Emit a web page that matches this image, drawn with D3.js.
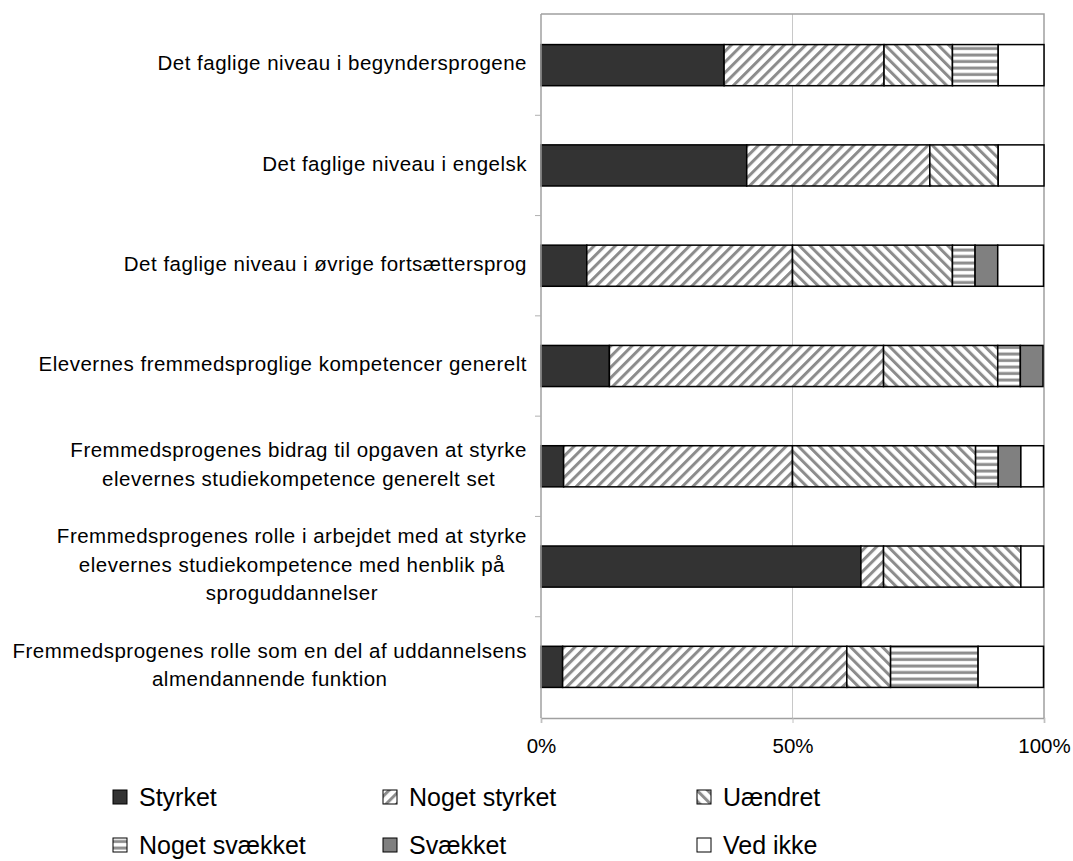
<!DOCTYPE html>
<html>
<head>
<meta charset="utf-8">
<script src="https://cdn.jsdelivr.net/npm/d3@7/dist/d3.min.js"></script>
<style>
  html, body { margin: 0; padding: 0; background: #fff; }
  svg { display: block; font-family: "Liberation Sans", Arial, sans-serif; }
</style>
</head>
<body>
<svg id="chart" width="1073" height="861"></svg>
<script>
const categories = [
  ["Det faglige niveau i begyndersprogene"],
  ["Det faglige niveau i engelsk"],
  ["Det faglige niveau i øvrige fortsættersprog"],
  ["Elevernes fremmedsproglige kompetencer generelt"],
  ["Fremmedsprogenes bidrag til opgaven at styrke", "elevernes studiekompetence generelt set"],
  ["Fremmedsprogenes rolle i arbejdet med at styrke", "elevernes studiekompetence med henblik på", "sproguddannelser"],
  ["Fremmedsprogenes rolle som en del af uddannelsens", "almendannende funktion"]
];
const seriesNames = ["Styrket", "Noget styrket", "Uændret", "Noget svækket", "Svækket", "Ved ikke"];
const styrket       = [36.4, 40.9,  9.1, 13.6,  4.5, 63.6,  4.3];
const nogetStyrket  = [31.8, 36.4, 40.9, 54.5, 45.5,  4.5, 56.5];
const uaendret      = [13.6, 13.6, 31.8, 22.7, 36.4, 27.3,  8.7];
const nogetSvaekket = [ 9.1,  0.0,  4.5,  4.5,  4.5,  0.0, 17.4];
const svaekket      = [ 0.0,  0.0,  4.5,  4.5,  4.5,  0.0,  0.0];
const vedIkke       = [ 9.1,  9.1,  9.1,  0.0,  4.5,  4.5, 13.0];
const xTicks = [0, 50, 100];

const seriesValues = [styrket, nogetStyrket, uaendret, nogetSvaekket, svaekket, vedIkke];
const fills = ["#333333", "url(#pDiagUp)", "url(#pDiagDown)", "url(#pHoriz)", "#808080", "#ffffff"];

const svg = d3.select("#chart");
const defs = svg.append("defs");
function stripe(id, rot) {
  const p = defs.append("pattern").attr("id", id).attr("patternUnits", "userSpaceOnUse")
    .attr("width", 7.5).attr("height", 7.5).attr("patternTransform", `rotate(${rot})`);
  p.append("rect").attr("width", 7.5).attr("height", 7.5).attr("fill", "#fff");
  p.append("rect").attr("x", 0).attr("width", 3).attr("height", 7.5).attr("fill", "#8c8c8c");
}
stripe("pDiagUp", 45);
stripe("pDiagDown", -45);
const ph = defs.append("pattern").attr("id", "pHoriz").attr("patternUnits", "userSpaceOnUse")
  .attr("width", 8).attr("height", 6.5);
ph.append("rect").attr("width", 8).attr("height", 6.5).attr("fill", "#fff");
ph.append("rect").attr("y", 1.5).attr("width", 8).attr("height", 3).attr("fill", "#8c8c8c");

const pLeft = 541, pRight = 1044, pTop = 14, pBottom = 718;
const x = d3.scaleLinear().domain([0, 100]).range([pLeft, pRight]);
const y = d3.scaleBand().domain(d3.range(categories.length)).range([pTop, pBottom])
  .paddingInner(0.59).paddingOuter(0.305);

// gridline at 50%
svg.append("g").selectAll("line").data(xTicks.filter(d => d > 0 && d < 100)).join("line")
  .attr("x1", d => x(d)).attr("x2", d => x(d)).attr("y1", pTop).attr("y2", pBottom)
  .attr("stroke", "#c8c8c8").attr("stroke-width", 1);

// plot frame (top/right)
svg.append("path").attr("d", `M${pLeft},${pTop}H${pRight}V${pBottom}`)
  .attr("fill", "none").attr("stroke", "#a0a0a0").attr("stroke-width", 1.5);

// stacked data
const rows = categories.map((c, i) => {
  let acc = 0;
  return seriesValues.map((s, k) => {
    const r = { row: i, k, x0: acc, x1: acc + s[i] };
    acc += s[i];
    return r;
  });
}).flat().filter(d => d.x1 - d.x0 > 0.01);

svg.append("g").selectAll("rect").data(rows).join("rect")
  .attr("x", d => x(d.x0)).attr("width", d => x(d.x1) - x(d.x0))
  .attr("y", d => y(d.row)).attr("height", y.bandwidth())
  .attr("fill", d => fills[d.k]).attr("stroke", "#000").attr("stroke-width", 1.5);

// left axis
svg.append("line").attr("x1", pLeft).attr("x2", pLeft).attr("y1", pTop).attr("y2", pBottom)
  .attr("stroke", "#a0a0a0").attr("stroke-width", 1.5);
const step = y.step();
svg.append("g").selectAll("line").data(d3.range(1, categories.length)).join("line")
  .attr("x1", pLeft - 6).attr("x2", pLeft)
  .attr("y1", i => y(i) - step * y.paddingInner() / 2).attr("y2", i => y(i) - step * y.paddingInner() / 2)
  .attr("stroke", "#b0b0b0").attr("stroke-width", 1);

// bottom axis
const xAxis = d3.axisBottom(x).tickValues(xTicks).tickFormat(d => d + "%").tickSize(5).tickPadding(15);
const gx = svg.append("g").attr("transform", `translate(0,${pBottom})`).call(xAxis);
gx.select(".domain").attr("stroke", "#a0a0a0").attr("stroke-width", 1.5);
gx.selectAll(".tick line").attr("stroke", "#c0c0c0");
gx.selectAll("text").attr("font-size", 20.5).attr("fill", "#000")
  .attr("font-family", "'Liberation Sans', Arial, sans-serif");

// category labels
const labelRight = 527, fs = 20.5, lh = 28.5;
const lg = svg.append("g").attr("font-size", fs).attr("fill", "#000").attr("letter-spacing", 0.5);
categories.forEach((lines, i) => {
  const cy = y(i) + y.bandwidth() / 2 - 2;
  const t = lg.append("text").attr("text-anchor", "middle");
  lines.forEach((ln, j) => {
    t.append("tspan").attr("y", cy + (j - (lines.length - 1) / 2) * lh + fs * 0.35).text(ln);
  });
  let maxW = 0;
  t.selectAll("tspan").each(function () { maxW = Math.max(maxW, this.getComputedTextLength()); });
  t.selectAll("tspan").attr("x", labelRight - maxW / 2);
});

// legend
const legCols = [113, 383, 697], legRows = [797, 845];
const lgd = svg.append("g");
seriesNames.forEach((name, k) => {
  const cx = legCols[k % 3], cy = legRows[Math.floor(k / 3)];
  lgd.append("rect").attr("x", cx).attr("y", cy - 7).attr("width", 14).attr("height", 14)
    .attr("fill", fills[k]).attr("stroke", "#000").attr("stroke-width", 1);
  lgd.append("text").attr("x", cx + 26).attr("y", cy + 25 * 0.35).attr("font-size", 25)
    .attr("fill", "#000").text(name);
});
</script>
</body>
</html>
